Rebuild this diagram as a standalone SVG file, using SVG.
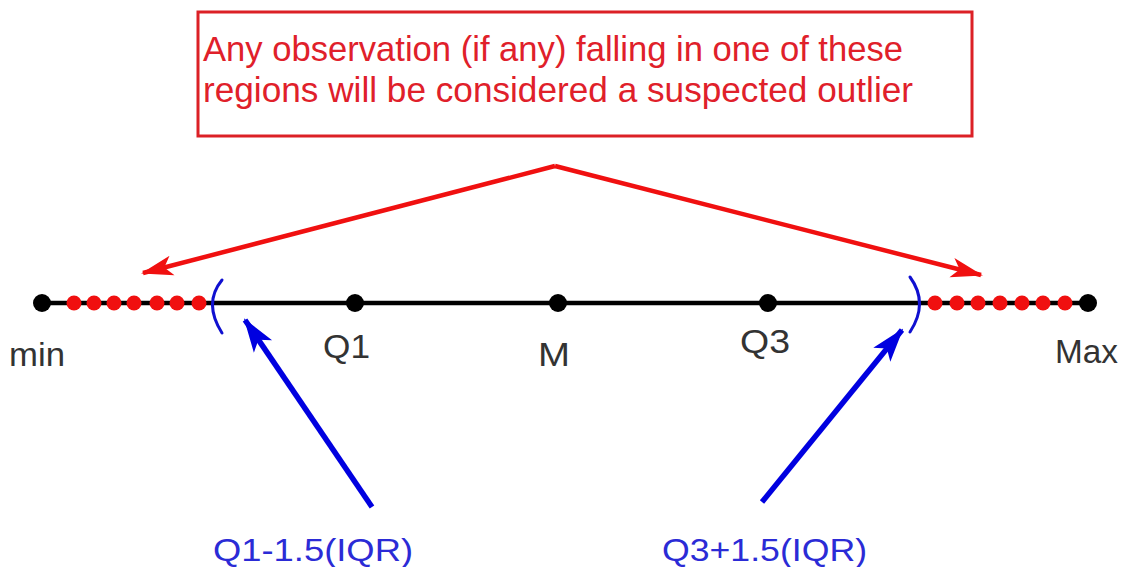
<svg xmlns="http://www.w3.org/2000/svg" width="1124" height="567" viewBox="0 0 1124 567">
<style>
.lbl{font-family:"Liberation Sans",Arial,sans-serif;font-size:34px;fill:#333;}
.blue{font-family:"Liberation Sans",Arial,sans-serif;font-size:32px;fill:#2b2bd6;}
.note{font-family:"Liberation Sans",Arial,sans-serif;font-size:35px;fill:#e0202a;}
.rd{fill:#f01010;}
.bk{fill:#000;}
.paren{fill:none;stroke:#1010d0;stroke-width:3;stroke-linecap:round;}
.ra{fill:none;stroke:#f01010;stroke-width:4.5;}
.ba{fill:none;stroke:#0000e0;stroke-width:5.5;}
</style>
<defs>
<marker id="rh" markerUnits="userSpaceOnUse" viewBox="0 0 32 22" refX="30" refY="11" markerWidth="32" markerHeight="22" orient="auto">
<path d="M0,1 L32,11 L0,21 L8,11 Z" fill="#f01010"/>
</marker>
<marker id="bh" markerUnits="userSpaceOnUse" viewBox="0 0 34 24" refX="32" refY="12" markerWidth="34" markerHeight="24" orient="auto">
<path d="M0,1 L34,12 L0,23 L8,12 Z" fill="#0000e0"/>
</marker>
</defs>
<rect width="1124" height="567" fill="#fff"/>
<g id="note">
<rect x="198" y="12" width="774" height="124" fill="none" stroke="#dc2026" stroke-width="3"/>
<text class="note" x="203" y="61" textLength="700" lengthAdjust="spacingAndGlyphs">Any observation (if any) falling in one of these</text>
<text class="note" x="203" y="102" textLength="710" lengthAdjust="spacingAndGlyphs">regions will be considered a suspected outlier</text>
</g>
<g id="numberline">
<line x1="42" y1="303" x2="1088" y2="303" stroke="#000" stroke-width="4.5"/>
<g id="left-outliers">
<circle class="rd" cx="74" cy="303" r="7.5"/>
<circle class="rd" cx="94" cy="303" r="7.5"/>
<circle class="rd" cx="114" cy="303" r="7.5"/>
<circle class="rd" cx="134" cy="303" r="7.5"/>
<circle class="rd" cx="157" cy="303" r="7.5"/>
<circle class="rd" cx="177" cy="303" r="7.5"/>
<circle class="rd" cx="199" cy="303" r="7.5"/>
</g>
<g id="right-outliers">
<circle class="rd" cx="935" cy="303" r="7.5"/>
<circle class="rd" cx="957" cy="303" r="7.5"/>
<circle class="rd" cx="978" cy="303" r="7.5"/>
<circle class="rd" cx="1000" cy="303" r="7.5"/>
<circle class="rd" cx="1022" cy="303" r="7.5"/>
<circle class="rd" cx="1043" cy="303" r="7.5"/>
<circle class="rd" cx="1065" cy="303" r="7.5"/>
</g>
<path class="paren" d="M222,280 Q203,303 222,333"/>
<path class="paren" d="M910,277 Q929,303 910,332"/>
</g>
<g id="min"><circle class="bk" cx="42" cy="303" r="9"/><text class="lbl" x="9" y="366" textLength="56" lengthAdjust="spacingAndGlyphs">min</text></g>
<g id="q1"><circle class="bk" cx="355" cy="303" r="9"/><text class="lbl" x="323" y="358" textLength="47" lengthAdjust="spacingAndGlyphs">Q1</text></g>
<g id="m"><circle class="bk" cx="558" cy="303" r="9"/><text class="lbl" x="538" y="366" textLength="32" lengthAdjust="spacingAndGlyphs">M</text></g>
<g id="q3"><circle class="bk" cx="768" cy="303" r="9"/><text class="lbl" x="740" y="353" textLength="50" lengthAdjust="spacingAndGlyphs">Q3</text></g>
<g id="max"><circle class="bk" cx="1088" cy="303" r="9"/><text class="lbl" x="1055" y="363" textLength="63" lengthAdjust="spacingAndGlyphs">Max</text></g>
<g id="lower-fence"><text class="blue" x="213" y="561" textLength="200" lengthAdjust="spacingAndGlyphs">Q1-1.5(IQR)</text></g>
<g id="upper-fence"><text class="blue" x="662" y="561" textLength="205" lengthAdjust="spacingAndGlyphs">Q3+1.5(IQR)</text></g>
<g id="connectors">
<line class="ra" x1="555" y1="166" x2="143" y2="273" marker-end="url(#rh)"/>
<line class="ra" x1="555" y1="166" x2="981" y2="275" marker-end="url(#rh)"/>
<line class="ba" x1="372" y1="507" x2="245" y2="320" marker-end="url(#bh)"/>
<line class="ba" x1="762" y1="502" x2="902" y2="330" marker-end="url(#bh)"/>
</g>
</svg>
